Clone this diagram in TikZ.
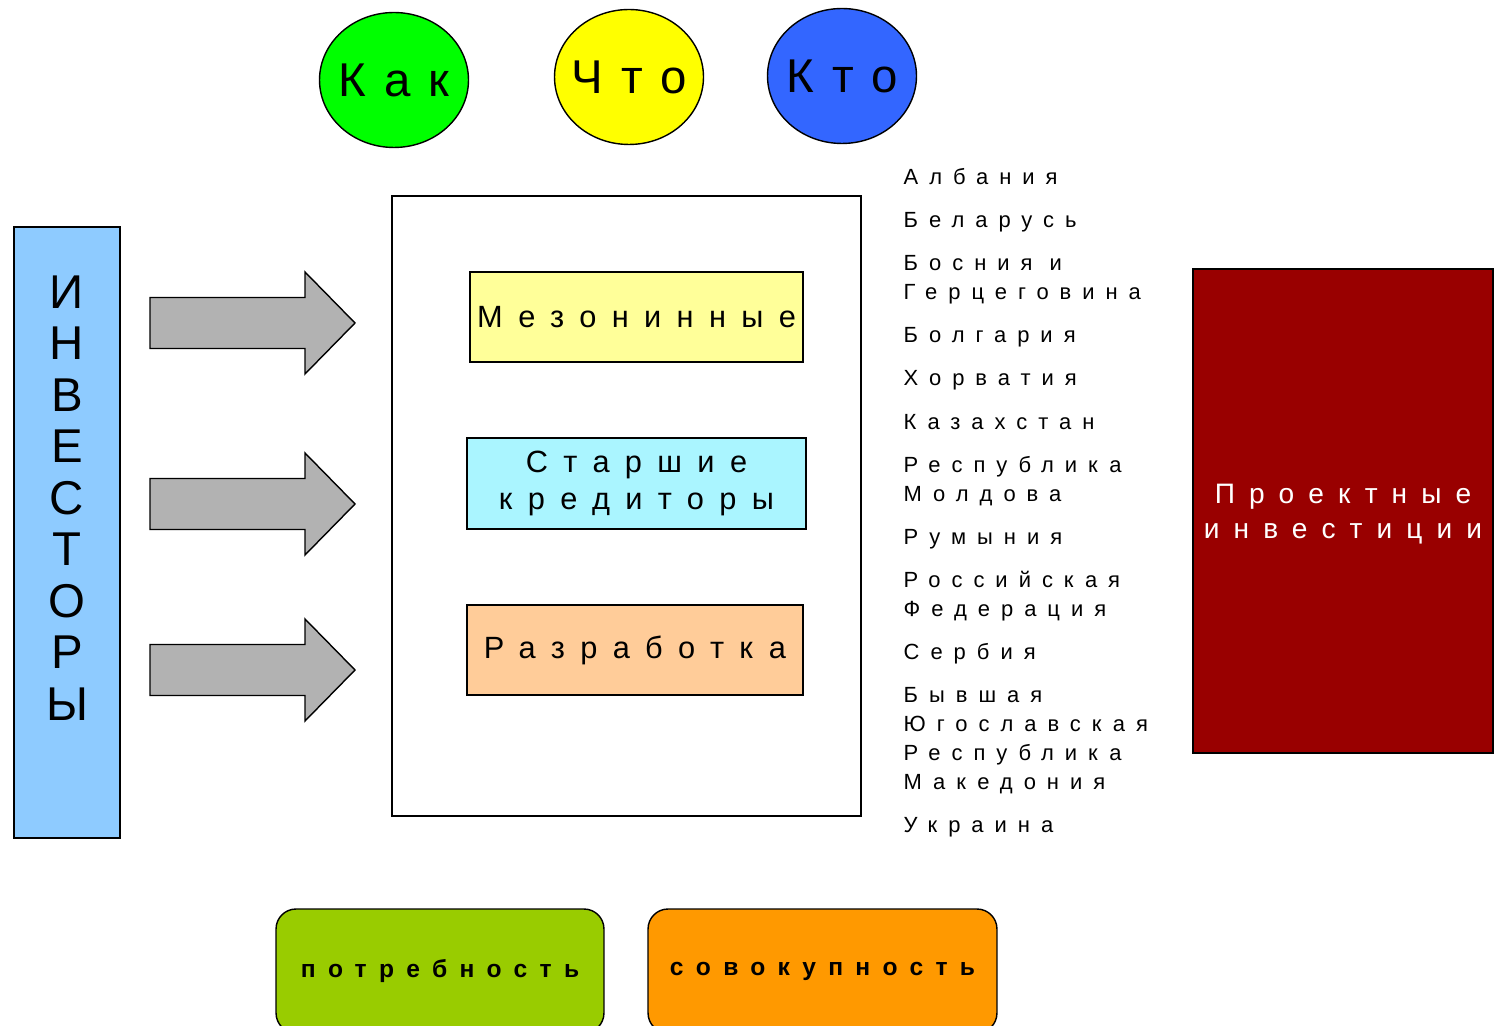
\documentclass[tikz,border=0pt]{standalone}
\usepackage{fontspec}
\setmainfont{Liberation Sans}
\newfontfamily\lsfont[LetterSpace=50]{Liberation Sans}
\newfontfamily\lscircfont[LetterSpace=38]{Liberation Sans}
\usetikzlibrary{shapes.geometric}

\definecolor{kakgreen}{HTML}{00FF00}
\definecolor{chtoyellow}{HTML}{FFFF00}
\definecolor{ktoblue}{HTML}{3366FF}
\definecolor{investblue}{HTML}{8ECBFF}
\definecolor{arrowgray}{HTML}{B2B2B2}
\definecolor{mezyellow}{HTML}{FFFF99}
\definecolor{seniorcyan}{HTML}{AAF5FF}
\definecolor{devpeach}{HTML}{FFCC99}
\definecolor{projred}{HTML}{990000}
\definecolor{needgreen}{HTML}{99CC00}
\definecolor{sumorange}{HTML}{FF9900}

\newcommand{\circtext}[1]{\makebox[0pt]{#1}}

\begin{document}
\begin{tikzpicture}[x=0.02cm,y=-0.02cm,line width=0.8pt,
    circ/.style={ellipse,draw,minimum width=2.98cm,minimum height=2.7cm,inner sep=0pt,font=\lscircfont\fontsize{27}{28}\selectfont},
    box/.style={rectangle,draw,inner sep=0pt,align=center},
    mainbox/.style={box,font=\lsfont\fontsize{17.5}{21.5}\selectfont},
    bottombox/.style={box,rounded corners=0.4cm,minimum height=2.48cm,font=\lsfont\bfseries\fontsize{14}{16}\selectfont},
    bigarrow/.style={draw,fill=arrowgray}]
\useasboundingbox (0,0) rectangle (1497,1026);
\clip (0,0) rectangle (1497,1026);

% top circles
\node[circ,fill=kakgreen] (kak) at (394,80) {\circtext{Как}};
\node[circ,fill=chtoyellow] (chto) at (629,77) {\circtext{Что}};
\node[circ,fill=ktoblue] (kto) at (842,76) {\circtext{Кто}};

% investors
\node[box,fill=investblue,minimum width=2.12cm,minimum height=12.22cm] (invest) at (67,532.5) {};
\node[align=center,inner sep=0pt,font=\fontsize{27}{29.3}\selectfont] (investtext) at (67,498) {И\\Н\\В\\Е\\С\\Т\\О\\Р\\Ы};

% arrows
\foreach \y in {323,504,670}
  \draw[bigarrow] (150,\y-25.5) -- (305,\y-25.5) -- (305,\y-51) -- (355,\y)
    -- (305,\y+51) -- (305,\y+25.5) -- (150,\y+25.5) -- cycle;

% frame with instruments
\node[box,minimum width=9.38cm,minimum height=12.4cm] (frame) at (626.5,506) {};
\node[mainbox,fill=mezyellow,minimum width=6.66cm,minimum height=1.8cm] (mez) at (636.5,317) {Мезонинные};
\node[mainbox,fill=seniorcyan,minimum width=6.78cm,minimum height=1.82cm] (senior) at (636.5,483.5) {Старшие\\кредиторы};
\node[mainbox,fill=devpeach,minimum width=6.72cm,minimum height=1.8cm] (dev) at (635,650) {Разработка};

% countries
\node[anchor=north west,align=left,inner sep=0pt,font=\lsfont\fontsize{12.5}{16.5}\selectfont] (countries) at (903,168) {%
Албания\\[8pt]
Беларусь\\[8pt]
Босния и\\Герцеговина\\[8pt]
Болгария\\[8pt]
Хорватия\\[8pt]
Казахстан\\[8pt]
Республика\\Молдова\\[8pt]
Румыния\\[8pt]
Российская\\Федерация\\[8pt]
Сербия\\[8pt]
Бывшая\\Югославская\\Республика\\Македония\\[8pt]
Украина};

% project investments
\node[box,fill=projred,minimum width=6cm,minimum height=9.68cm] (proj) at (1343,511) {};
\node[align=center,inner sep=0pt,text=white,font=\lsfont\fontsize{16}{20}\selectfont] (projtext) at (1343,514) {Проектные\\инвестиции};

% bottom boxes
\node[bottombox,fill=needgreen,minimum width=6.56cm] (need) at (440,971) {потребность};
\node[bottombox,fill=sumorange,minimum width=6.98cm] (total) at (822.5,971) {совокупность};
\end{tikzpicture}
\end{document}
